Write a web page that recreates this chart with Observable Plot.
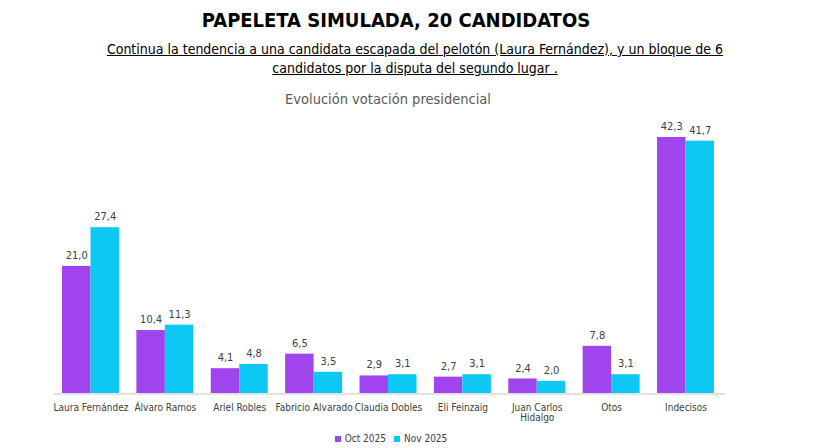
<!DOCTYPE html>
<html><head><meta charset="utf-8">
<script src="https://cdn.jsdelivr.net/npm/d3@7"></script>
<script src="https://cdn.jsdelivr.net/npm/@observablehq/plot@0.6"></script>
<style>
html,body{margin:0;padding:0;background:#fff;}
body{width:826px;height:448px;position:relative;overflow:hidden;font-family:"Liberation Sans Narrow","DejaVu Sans Condensed","Roboto",sans-serif;}
#title{position:absolute;top:8px;left:0;width:792px;text-align:center;font-weight:bold;font-size:20px;color:#000;}
#sub{position:absolute;top:40px;left:90px;width:650px;text-align:center;font-size:14px;line-height:19px;color:#000;text-decoration:underline;}
#ctitle{position:absolute;top:91px;left:0;width:776px;text-align:center;font-size:14.5px;color:#595959;}
#chart{position:absolute;top:110px;left:0;}
#legend{position:absolute;top:433px;left:0;width:782px;text-align:center;font-size:10px;color:#404040;}
#legend span.sw{display:inline-block;width:6px;height:6px;margin-right:4px;vertical-align:0px;}
#legend span.it{margin:0 4px;}
</style></head>
<body>
<div id="title">PAPELETA SIMULADA, 20 CANDIDATOS</div>
<div id="sub">Continua la tendencia a una candidata escapada del pelotón (Laura Fernández), y un bloque de 6 candidatos por la disputa del segundo lugar .</div>
<div id="ctitle">Evolución votación presidencial</div>
<div id="chart"></div>
<div id="legend"></div>
<script>
const categories = ["Laura Fernández","Álvaro Ramos","Ariel Robles","Fabricio Alvarado","Claudia Dobles","Eli Feinzaig","Juan Carlos\nHidalgo","Otos","Indecisos"];
const series = ["Oct 2025","Nov 2025"];
const oct2025 = [21.0,10.4,4.1,6.5,2.9,2.7,2.4,7.8,42.3];
const nov2025 = [27.4,11.3,4.8,3.5,3.1,3.1,2.0,3.1,41.7];
const colors = ["#A044EE","#0CC8F2"];

const data = [];
categories.forEach((c,i)=>{
  data.push({cat:c, s:series[0], v:oct2025[i]});
  data.push({cat:c, s:series[1], v:nov2025[i]});
});
const fmt = v => v.toFixed(1).replace(".", ",");

const plot = Plot.plot({
  width: 826,
  height: 320,
  marginLeft: 62,
  marginRight: 112,
  marginTop: 27,
  marginBottom: 37,
  style: {fontFamily: '"Liberation Sans Narrow","DejaVu Sans Condensed",sans-serif', fontSize: "10px", color: "#404040", background: "#fff", overflow: "visible"},
  fx: {domain: categories, paddingInner: 0.234, paddingOuter: 0, round: false, label: null, axis: "bottom", tickSize: 0, tickPadding: 10},
  x: {domain: series, padding: 0, round: false, axis: null},
  y: {domain: [0, 42.3], axis: null},
  color: {domain: series, range: colors},
  marks: [
    Plot.barY(data, {fx: "cat", x: "s", y: "v", fill: "s"}),
    Plot.text(data, {fx: "cat", x: "s", y: "v", text: d => fmt(d.v), dy: -11, fontSize: 11, fill: "#404040"})
  ]
});
document.getElementById("chart").appendChild(plot);

// baseline across full width
const svg = d3.select(plot);
const y0 = plot.scale("y").apply(0);
svg.append("line").attr("x1", 54).attr("x2", 725).attr("y1", y0+1).attr("y2", y0+1)
  .attr("stroke", "#d9d9d9").attr("stroke-width", 1.5);

const leg = d3.select("#legend");
series.forEach((s,i)=>{
  const it = leg.append("span").attr("class","it");
  it.append("span").attr("class","sw").style("background", colors[i]);
  it.append("span").text(s);
});
</script>
</body></html>
